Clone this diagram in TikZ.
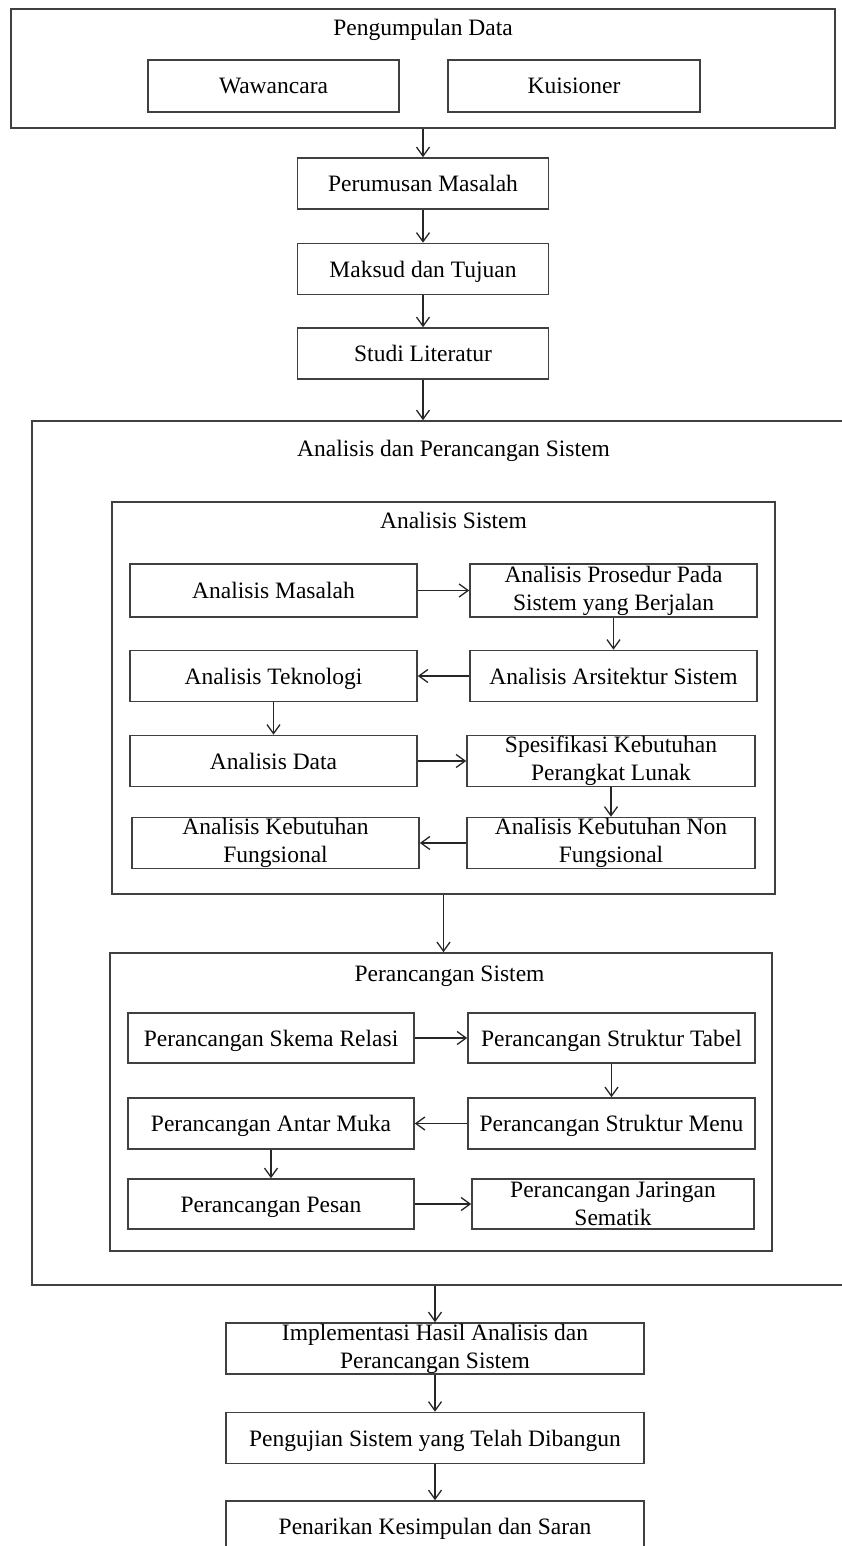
\documentclass[tikz,border=0pt]{standalone}
\usepackage{fontspec}
\setmainfont{Liberation Serif}
\usetikzlibrary{arrows.meta}

\tikzset{
	kotak/.style={draw=black!75, line width=1.6pt, inner sep=0pt, align=center, minimum height=51pt},
	judul/.style={text height=20pt, text depth=4pt, inner sep=0pt},
	tunggal/.style={kotak, judul},
	panah/.style={-{Straight Barb[length=9pt,width=13pt]}, line width=1.3pt, draw=black!85}
}

\begin{document}
\begin{tikzpicture}[x=1pt,y=-1pt,font=\fontsize{23.5}{28}\selectfont]

			\useasboundingbox (0,0) rectangle (842,1546);

			\node[kotak, minimum width=824pt, minimum height=119pt] (kumpul) at (423,68.5) {};
			\node[judul] (judulKumpul) at (423,28) {Pengumpulan Data};
			\node[tunggal, minimum width=251pt, minimum height=52pt] (wawancara) at (273.5,86) {Wawancara};
			\node[tunggal, minimum width=252pt, minimum height=52pt] (kuisioner) at (574,86) {Kuisioner};

			\node[tunggal, minimum width=251pt] (perumusan) at (423,183.5) {Perumusan Masalah};
			\node[tunggal, minimum width=251pt] (maksud) at (423,269) {Maksud dan Tujuan};
			\node[tunggal, minimum width=251pt] (studi) at (423,353.5) {Studi Literatur};

			\node[kotak, minimum width=818pt, minimum height=864pt] (anper) at (441,853) {};
			\node[judul] (judulAnper) at (453.5,448) {Analisis dan Perancangan Sistem};

			\node[kotak, minimum width=663pt, minimum height=392pt] (asis) at (443.5,698) {};
			\node[judul] (judulAsis) at (453.5,520) {Analisis Sistem};

			\node[tunggal, minimum width=287pt, minimum height=53pt] (amasalah) at (273.5,590.5) {Analisis Masalah};
			\node[kotak, minimum width=287pt, minimum height=53pt] (aprosedur) at (613.5,590.5) {Analisis Prosedur Pada\\Sistem yang Berjalan};
			\node[tunggal, minimum width=287pt] (ateknologi) at (273.5,676) {Analisis Teknologi};
			\node[tunggal, minimum width=287pt] (aarsitektur) at (613.5,676) {Analisis Arsitektur Sistem};
			\node[tunggal, minimum width=287pt] (adata) at (273.5,761) {Analisis Data};
			\node[kotak, minimum width=288pt] (aspesifikasi) at (611,761) {Spesifikasi Kebutuhan\\Perangkat Lunak};
			\node[kotak, minimum width=287pt] (afungsional) at (275.5,843) {Analisis Kebutuhan\\Fungsional};
			\node[kotak, minimum width=288pt] (anonfungsional) at (611,843) {Analisis Kebutuhan Non\\Fungsional};

			\node[kotak, minimum width=662pt, minimum height=298pt] (psis) at (441,1102) {};
			\node[judul] (judulPsis) at (449.5,973) {Perancangan Sistem};

			\node[tunggal, minimum width=286pt, minimum height=50pt] (pskema) at (271,1038) {Perancangan Skema Relasi};
			\node[tunggal, minimum width=287pt, minimum height=50pt] (ptabel) at (611.5,1038) {Perancangan Struktur Tabel};
			\node[tunggal, minimum width=286pt] (pmuka) at (271,1123.5) {Perancangan Antar Muka};
			\node[tunggal, minimum width=287pt] (pmenu) at (611.5,1123.5) {Perancangan Struktur Menu};
			\node[tunggal, minimum width=286pt, minimum height=50pt] (ppesan) at (271,1204) {Perancangan Pesan};
			\node[kotak, minimum width=282pt, minimum height=50pt] (pjaringan) at (613,1204) {Perancangan Jaringan\\Sematik};

			\node[kotak, minimum width=418pt] (implementasi) at (435,1348.5) {Implementasi Hasil Analisis dan\\Perancangan Sistem};
			\node[tunggal, minimum width=418pt] (pengujian) at (435,1438) {Pengujian Sistem yang Telah Dibangun};
			\node[tunggal, minimum width=418pt] (penarikan) at (435,1526.5) {Penarikan Kesimpulan dan Saran};

			\draw [panah] (kumpul.south) -- (perumusan.north);
			\draw [panah] (perumusan.south) -- (maksud.north);
			\draw [panah] (maksud.south) -- (studi.north);
			\draw [panah] (studi.south) -- (studi.south |- anper.north);

			\draw [panah] (amasalah) -- (aprosedur);
			\draw [panah] (aprosedur) -- (aarsitektur);
			\draw [panah] (aarsitektur) -- (ateknologi);
			\draw [panah] (ateknologi) -- (adata);
			\draw [panah] (adata) -- (aspesifikasi);
			\draw [panah] (aspesifikasi) -- (anonfungsional);
			\draw [panah] (anonfungsional) -- (afungsional);

			\draw [panah] (asis.south) -- (asis.south |- psis.north);

			\draw [panah] (pskema) -- (ptabel);
			\draw [panah] (ptabel) -- (pmenu);
			\draw [panah] (pmenu) -- (pmuka);
			\draw [panah] (pmuka) -- (ppesan);
			\draw [panah] (ppesan) -- (pjaringan);

			\draw [panah] (implementasi.north |- anper.south) -- (implementasi.north);
			\draw [panah] (implementasi.south) -- (pengujian.north);
			\draw [panah] (pengujian.south) -- (penarikan.north);

\end{tikzpicture}
\end{document}
